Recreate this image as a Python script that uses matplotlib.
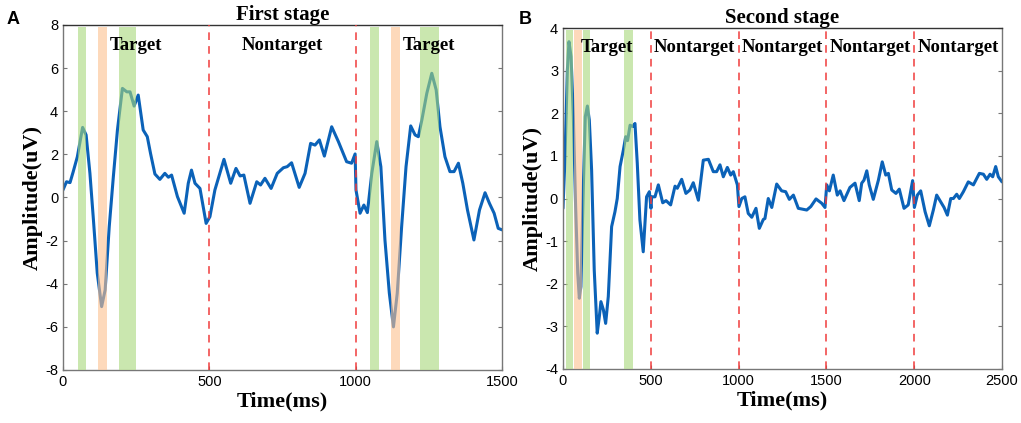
import numpy as np
import matplotlib.pyplot as plt

# ---- data ----
# panel A: first stage (time in ms, amplitude in uV)
t1 = [0, 12, 24, 35, 49, 67, 79, 92, 104, 117, 132, 144, 158, 172, 186, 203, 218,
      229, 243, 257, 274, 288, 299, 314, 331, 348, 360, 371, 391, 414, 428, 439, 451,
      468, 489, 502, 519, 550, 573, 591, 605, 618, 639, 662, 675, 690, 711, 732, 753,
      766, 781, 807, 827, 846, 861, 876, 893, 918, 941, 969, 986, 998, 1001, 1015,
      1028, 1040, 1055, 1072, 1086, 1100, 1115, 1129, 1142, 1157, 1172, 1188, 1203,
      1214, 1226, 1243, 1260, 1275, 1288, 1305, 1322, 1336, 1351, 1366, 1382, 1404,
      1423, 1442, 1457, 1473, 1487, 1500]
a1 = [0.35, 0.73, 0.69, 1.2, 1.89, 3.25, 2.9, 1.12, -1.04, -3.5, -5.06, -4.29, -1.35,
      0.96, 3.13, 5.06, 4.9, 4.9, 4.24, 4.75, 3.13, 2.82, 2.05, 1.09, 0.84, 1.12, 0.94,
      1.04, 0.04, -0.73, 0.66, 1.27, 0.66, 0.42, -1.2, -0.89, 0.35, 1.77, 0.66, 1.35,
      1.0, 1.04, -0.27, 0.73, 0.58, 0.89, 0.42, 1.12, 1.38, 1.43, 1.61, 0.47, 1.12,
      2.51, 2.43, 2.67, 1.92, 3.28, 2.59, 1.66, 1.59, 2.02, 0.35, -0.73, -0.35, -0.7,
      1.12, 2.59, 1.43, -1.97, -4.44, -6.0, -4.44, -1.35, 1.43, 3.32, 2.9, 2.82, 3.59,
      4.83, 5.76, 4.99, 3.28, 1.89, 1.2, 1.2, 1.59, 0.66, -0.58, -1.97, -0.58, 0.22,
      -0.27, -0.73, -1.43, -1.5]

# panel B: second stage
t2 = [0, 11, 25, 34, 46, 59, 72, 84, 93, 102, 116, 127, 139, 150, 163, 178, 195, 207,
      216, 230, 243, 258, 277, 296, 309, 325, 344, 357, 368, 382, 397, 410, 423, 438,
      457, 476, 492, 501, 505, 514, 524, 543, 568, 587, 613, 638, 651, 676, 700, 723,
      742, 771, 799, 828, 856, 875, 894, 913, 936, 955, 970, 993, 1002, 1018, 1036,
      1055, 1075, 1099, 1118, 1141, 1150, 1169, 1189, 1217, 1245, 1268, 1289, 1312,
      1340, 1388, 1411, 1441, 1473, 1492, 1502, 1517, 1539, 1562, 1578, 1600, 1634,
      1663, 1687, 1701, 1714, 1730, 1744, 1767, 1796, 1818, 1838, 1853, 1872, 1896,
      1915, 1942, 1966, 1991, 2001, 2018, 2037, 2062, 2086, 2109, 2128, 2151, 2170,
      2189, 2208, 2223, 2242, 2257, 2280, 2308, 2337, 2371, 2394, 2413, 2432, 2447,
      2464, 2479, 2500]
a2 = [-0.23, 0.9, 3.01, 3.68, 3.33, 1.92, -0.19, -1.75, -2.34, -2.07, 0.28, 1.92,
      2.17, 1.84, 0.67, -1.68, -3.16, -2.77, -2.42, -2.61, -2.93, -2.3, -0.66, -0.31,
      0.0, 0.75, 1.14, 1.45, 1.36, 1.72, 1.69, 1.76, 0.83, -0.5, -1.25, 0.04, 0.16,
      -0.23, 0.04, 0.04, 0.04, 0.32, -0.1, -0.05, -0.15, 0.29, 0.24, 0.45, 0.12, 0.2,
      0.37, -0.04, 0.9, 0.92, 0.63, 0.63, 0.79, 0.51, 0.73, 0.55, 0.63, 0.32, -0.19,
      0.0, 0.04, -0.35, -0.44, -0.23, -0.7, -0.49, -0.47, 0.0, -0.21, 0.34, 0.18, 0.16,
      -0.02, 0.08, -0.23, -0.27, -0.19, -0.01, -0.11, -0.21, 0.32, 0.18, 0.55, 0.08,
      0.18, -0.05, 0.26, 0.36, -0.05, 0.36, 0.43, 0.65, 0.32, -0.02, 0.43, 0.86, 0.55,
      0.59, 0.2, 0.12, 0.22, -0.23, -0.15, 0.42, -0.21, 0.08, 0.18, -0.31, -0.64,
      -0.27, 0.08, -0.08, -0.21, -0.39, 0.0, 0.0, 0.1, 0.0, 0.16, 0.39, 0.32, 0.59,
      0.57, 0.45, 0.57, 0.51, 0.75, 0.51, 0.39]

# shaded windows (start, end, kind)
bands1 = [(50, 80, 'g'), (120, 150, 'o'), (190, 250, 'g'),
          (1050, 1080, 'g'), (1120, 1150, 'o'), (1220, 1285, 'g')]
bands2 = [(15, 55, 'g'), (65, 110, 'o'), (115, 155, 'g'), (350, 400, 'g')]

splits1 = [500, 1000]
splits2 = [500, 1000, 1500, 2000]
labels1 = [(250, 'Target'), (750, 'Nontarget'), (1250, 'Target')]
labels2 = [(250, 'Target'), (750, 'Nontarget'), (1250, 'Nontarget'),
           (1750, 'Nontarget'), (2250, 'Nontarget')]

band_col = {'g': '#a8d77a', 'o': '#fcc08f'}
serif = ['Liberation Serif', 'DejaVu Serif']
plt.rcParams['font.family'] = ['Liberation Sans', 'DejaVu Sans']
plt.rcParams['axes.unicode_minus'] = False


def panel(ax, t, a, bands, splits, labels, xmax, ylim, yticks, title):
    ax.plot(t, a, color='#0b62b8', lw=2.2, zorder=2,
            solid_joinstyle='round', solid_capstyle='round')
    for s, e, k in bands:
        ax.axvspan(s, e, ymax=0.995, color=band_col[k], alpha=0.6, lw=0, zorder=3)
    for s in splits:
        ax.axvline(s, color='#f03c3c', ls=(0, (5, 4)), lw=1.1, zorder=4)
    for x, txt in labels:
        ax.text(x, ylim[1] - (ylim[1] - ylim[0]) * 0.058, txt, ha='center', va='center',
                fontsize=13.5, fontweight='bold', family=serif, zorder=5)
    ax.set_xlim(0, xmax)
    ax.set_ylim(*ylim)
    ax.set_xticks(np.arange(0, xmax + 1, 500))
    ax.set_yticks(yticks)
    ax.tick_params(direction='in', length=3, labelsize=10.5, color='#777777',
                   right=True, top=False)
    for sp in ['left', 'right', 'bottom']:
        ax.spines[sp].set_color('#777777')
    ax.spines['top'].set_color('#333333')
    for sp in ax.spines.values():
        sp.set_linewidth(1.0)
    ax.set_xlabel('Time(ms)', fontsize=16, fontweight='bold', family=serif, labelpad=2)
    ax.set_ylabel('Amplitude(uV)', fontsize=16, fontweight='bold', family=serif, labelpad=2)
    ax.set_title(title, fontsize=15, fontweight='bold', family=serif, pad=3)


fig = plt.figure(figsize=(10.21, 4.23), dpi=100)
ax1 = fig.add_axes([0.0617, 0.1253, 0.430, 0.8156])
ax2 = fig.add_axes([0.5514, 0.1277, 0.430, 0.806])

panel(ax1, t1, a1, bands1, splits1, labels1, 1500, (-8, 8), np.arange(-8, 9, 2),
      'First stage')
panel(ax2, t2, a2, bands2, splits2, labels2, 2500, (-4, 4), np.arange(-4, 5, 1),
      'Second stage')

fig.text(0.006, 0.975, 'A', fontsize=13, fontweight='bold', va='top')
fig.text(0.508, 0.975, 'B', fontsize=13, fontweight='bold', va='top')

fig.savefig('out.png', dpi=100)
